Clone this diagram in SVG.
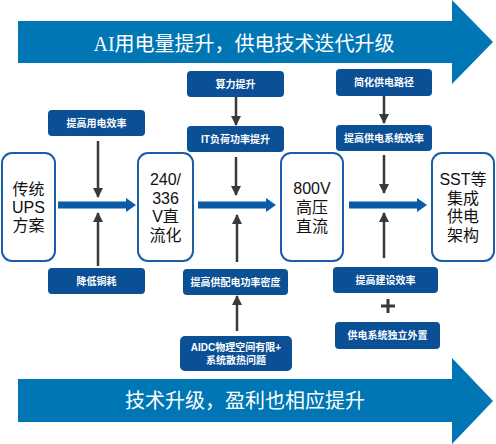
<svg xmlns="http://www.w3.org/2000/svg" width="496" height="444" viewBox="0 0 496 444">
<style>
.big{fill:#0077B4}
.bigt{font-family:"Liberation Serif","Noto Sans CJK SC",serif;font-size:20px;fill:#fff;text-anchor:middle}
.node rect{fill:#fff;stroke:#1A5EA8;stroke-width:2}
.node text{font-family:"Liberation Sans","Noto Sans CJK SC",sans-serif;font-size:16px;fill:#111;text-anchor:middle}
.lbl rect{fill:#0B4F95}
.lbl text{font-family:"Liberation Sans","Noto Sans CJK SC",sans-serif;font-size:10px;font-weight:bold;fill:#fff;text-anchor:middle}
.flow{stroke:#0B5AA6;stroke-width:7;fill:none}
.flowh{fill:#0B5AA6}
.v{stroke:#3a3a3a;stroke-width:2.5;fill:none;marker-end:url(#ah)}
</style>
<defs>
<marker id="ah" viewBox="0 0 10 10" refX="9" refY="5" markerWidth="4" markerHeight="4" orient="auto">
<path d="M0,0 L10,5 L0,10 z" fill="#3a3a3a"/>
</marker>
</defs>
<g id="top-arrow">
<polygon class="big" points="18,21 452,21 452,0 493,42 452,84 452,63 18,63"/>
<text class="bigt" x="244" y="51">AI用电量提升，供电技术迭代升级</text>
</g>
<g id="bottom-arrow">
<polygon class="big" points="18,379 452,379 452,358 493,401 452,444 452,422 18,422"/>
<text class="bigt" x="245" y="408">技术升级，盈利也相应提升</text>
</g>
<g id="n1" class="node">
<rect x="2" y="153" width="53" height="108" rx="10"/>
<text x="28.5" y="195">传统</text><text x="28.5" y="213">UPS</text><text x="28.5" y="231">方案</text>
</g>
<g id="n2" class="node">
<rect x="138" y="153" width="55" height="108" rx="10"/>
<text x="165.5" y="185">240/</text><text x="165.5" y="203.5">336</text><text x="165.5" y="222">V直</text><text x="165.5" y="240.5">流化</text>
</g>
<g id="n3" class="node">
<rect x="281" y="153" width="62" height="108" rx="10"/>
<text x="312" y="194">800V</text><text x="312" y="213">高压</text><text x="312" y="232">直流</text>
</g>
<g id="n4" class="node">
<rect x="432" y="153" width="62" height="108" rx="10"/>
<text x="463" y="185">SST等</text><text x="463" y="203.5">集成</text><text x="463" y="222">供电</text><text x="463" y="240.5">架构</text>
</g>
<g id="l1" class="lbl"><rect x="48" y="110" width="97" height="26" rx="4"/><text x="96.5" y="127">提高用电效率</text></g>
<g id="l2" class="lbl"><rect x="48" y="268" width="97" height="26" rx="4"/><text x="96.5" y="285">降低铜耗</text></g>
<g id="l3" class="lbl"><rect x="187" y="71" width="97" height="26" rx="4"/><text x="235.5" y="88">算力提升</text></g>
<g id="l4" class="lbl"><rect x="187" y="126" width="97" height="26" rx="4"/><text x="235.5" y="143">IT负荷功率提升</text></g>
<g id="l5" class="lbl"><rect x="183" y="269" width="105" height="26" rx="4"/><text x="235.5" y="286">提高供配电功率密度</text></g>
<g id="l6" class="lbl"><rect x="180" y="336" width="112" height="35" rx="5"/><text x="236" y="351">AIDC物理空间有限+</text><text x="236" y="364">系统散热问题</text></g>
<g id="l7" class="lbl"><rect x="336" y="69" width="96" height="27" rx="4"/><text x="384" y="86">简化供电路径</text></g>
<g id="l8" class="lbl"><rect x="336" y="125" width="96" height="26" rx="4"/><text x="384" y="142">提高供电系统效率</text></g>
<g id="l9" class="lbl"><rect x="333" y="267" width="105" height="26" rx="4"/><text x="385.5" y="284">提高建设效率</text></g>
<g id="l10" class="lbl"><rect x="335" y="322" width="105" height="27" rx="4"/><text x="387.5" y="339">供电系统独立外置</text></g>
<g id="plus"><path d="M381,306 H395 M388,299 V313" stroke="#3a3a3a" stroke-width="3"/></g>
<g id="connectors">
<line class="flow" x1="58" y1="205" x2="127" y2="205"/><polygon class="flowh" points="126,198 136,205 126,212"/>
<line class="flow" x1="198" y1="205" x2="267" y2="205"/><polygon class="flowh" points="266,198 276,205 266,212"/>
<line class="flow" x1="349" y1="205" x2="418" y2="205"/><polygon class="flowh" points="417,198 427,205 417,212"/>
<line class="v" x1="98" y1="141" x2="98" y2="197"/>
<line class="v" x1="98" y1="266" x2="98" y2="213"/>
<line class="v" x1="236" y1="97" x2="236" y2="125"/>
<line class="v" x1="236" y1="157" x2="236" y2="195"/>
<line class="v" x1="237" y1="262" x2="237" y2="215"/>
<line class="v" x1="237" y1="331" x2="237" y2="296"/>
<line class="v" x1="384" y1="96" x2="384" y2="123"/>
<line class="v" x1="384" y1="155" x2="384" y2="193"/>
<line class="v" x1="384" y1="258" x2="384" y2="213"/>
</g>
</svg>
